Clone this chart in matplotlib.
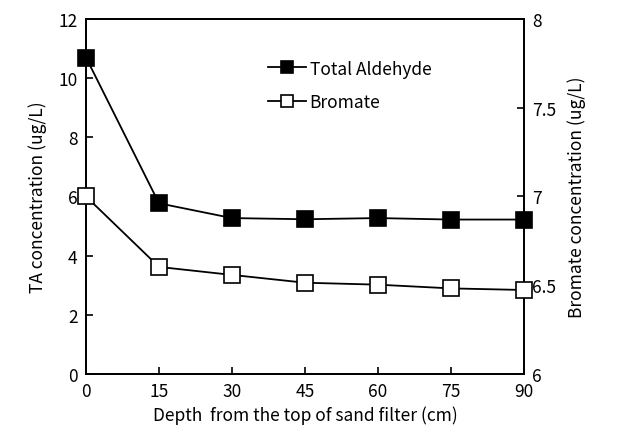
import matplotlib
matplotlib.use("Agg")
import matplotlib.pyplot as plt

depth = [0, 15, 30, 45, 60, 75, 90]
total_aldehyde = [10.7, 5.77, 5.27, 5.23, 5.27, 5.22, 5.22]
bromate = [7.0, 6.603, 6.558, 6.514, 6.503, 6.482, 6.473]

plt.rcParams['font.family'] = ['Noto Sans CJK KR', 'DejaVu Sans']
plt.rcParams['font.weight'] = 'medium'

fig = plt.figure(figsize=(6.28, 4.27), dpi=100)
ax = fig.add_axes([0.137, 0.122, 0.697, 0.831])
ax2 = ax.twinx()

l1, = ax.plot(depth, total_aldehyde, color='black', lw=1.3, marker='s',
              markersize=11, markerfacecolor='black', markeredgecolor='black',
              markeredgewidth=1.2, label='Total Aldehyde', clip_on=False, zorder=3)
l2, = ax2.plot(depth, bromate, color='black', lw=1.3, marker='s',
               markersize=11, markerfacecolor='white', markeredgecolor='black',
               markeredgewidth=1.2, label='Bromate', clip_on=False, zorder=3)

ax.set_xlim(0, 90)
ax.set_ylim(0, 12)
ax2.set_ylim(6, 8)
ax.set_xticks(depth)
ax.set_yticks(range(0, 13, 2))
ax2.set_yticks([6, 6.5, 7, 7.5, 8])
ax2.set_yticklabels(['6', '6.5', '7', '7.5', '8'])

for a in (ax, ax2):
    a.tick_params(direction='in', length=5, width=1.2, labelsize=12.5, pad=6)
    for s in a.spines.values():
        s.set_linewidth(1.3)

ax.set_xlabel('Depth  from the top of sand filter (cm)', fontsize=12.5, labelpad=4)
ax.set_ylabel('TA concentration (ug/L)', fontsize=12.5, labelpad=8)
ax2.set_ylabel('Bromate concentration (ug/L)', fontsize=12.5, labelpad=8)

ax.legend([l1, l2], ['Total Aldehyde', 'Bromate'], loc='upper left',
          bbox_to_anchor=(0.38, 0.93), frameon=False, fontsize=12.5,
          handlelength=2.2, handletextpad=0.2, labelspacing=0.9, markerscale=0.8)

fig.savefig('out.png', dpi=100)
